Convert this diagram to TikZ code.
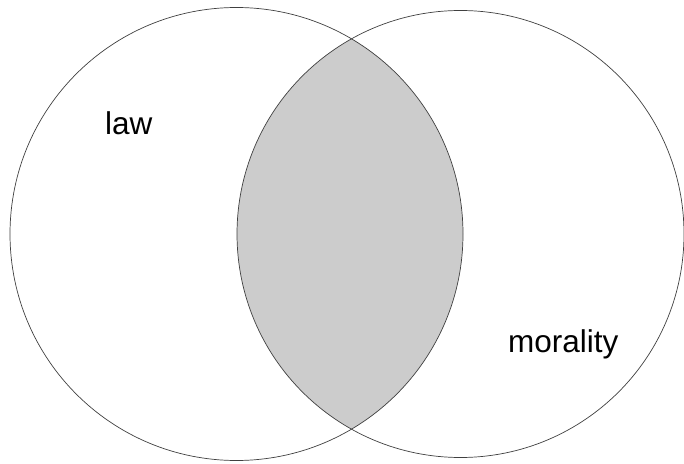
\documentclass[tikz,border=0pt]{standalone}
\usepackage{fontspec}
\setmainfont{Liberation Sans}
\begin{document}
\begin{tikzpicture}[x=1pt,y=1pt,
  ring/.style={draw=black!75,line width=0.7pt},
  lbl/.style={font=\fontsize{31.5}{38}\selectfont,inner sep=0pt,anchor=base west}]
\useasboundingbox (0,0) rectangle (684,463);
\fill[white] (0,0) rectangle (684,463);
\coordinate (cl) at (236.5,229);
\coordinate (cr) at (460.5,229);
\begin{scope}
  \clip (cl) circle[radius=226.5];
  \fill[black!20] (cr) circle[radius=223.5];
\end{scope}
\draw[ring] (cl) circle[radius=226.5];
\draw[ring] (cr) circle[radius=223.5];
\node[lbl] (law) at (105,328) {law};
\node[lbl] (mor) at (508,111) {morality};
\end{tikzpicture}
\end{document}
